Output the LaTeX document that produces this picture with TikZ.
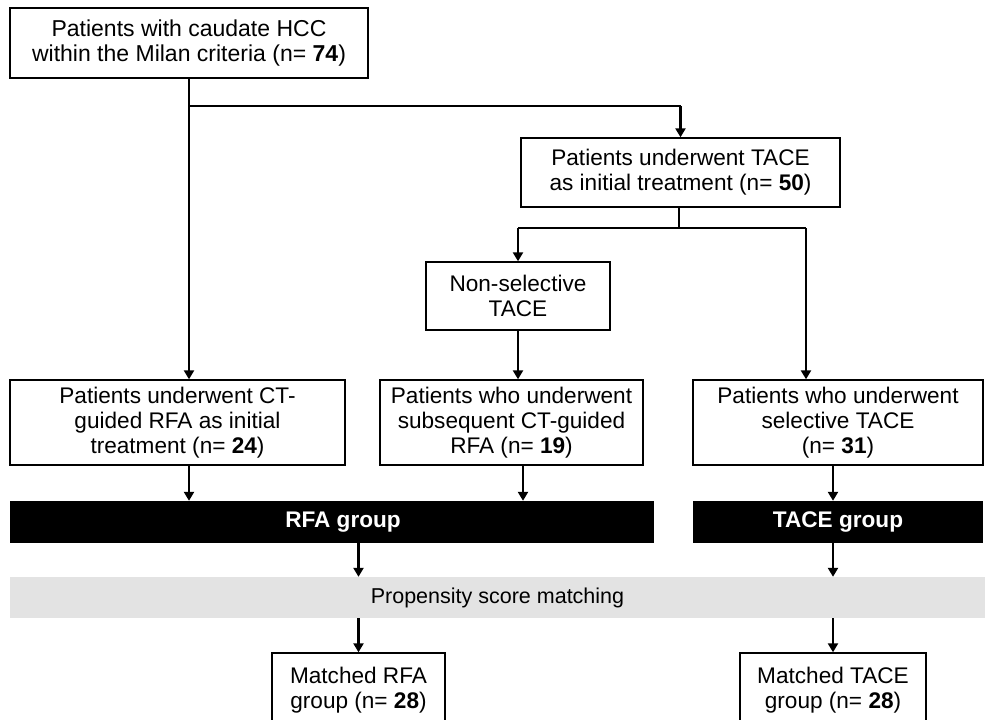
\documentclass[tikz,border=0pt]{standalone}
\usepackage{fontspec}
\setmainfont{Liberation Sans}
\usetikzlibrary{arrows.meta}
\definecolor{psgray}{HTML}{E3E3E3}
\tikzset{
  box/.style={draw=black, line width=1.4pt, fill=white, inner sep=0pt, align=center,
    font=\fontsize{22.6}{25}\selectfont},
  bar/.style={fill=black, inner sep=0pt, text=white, align=center,
    font=\fontsize{22.6}{25}\selectfont\bfseries},
  arr/.style={line width=2.6pt, -{Triangle[width=10pt,length=9pt]}},
  thin/.style={line width=1.4pt},
}
\begin{document}
\begin{tikzpicture}[x=1pt,y=-1pt]
\clip (0,0) rectangle (985,720);
\useasboundingbox (0,0) rectangle (985,720);
\fill[white] (0,0) rectangle (985,720);

\node[box, minimum width=358pt, minimum height=70pt, font=\fontsize{23}{25}\selectfont] (top) at (189,43)
  {Patients with caudate HCC\\within the Milan criteria (n= \textbf{74})};
\node[box, minimum width=319pt, minimum height=69pt] (tace) at (680.5,172.5)
  {Patients underwent TACE\\as initial treatment (n= \textbf{50})};
\node[box, minimum width=184pt, minimum height=68pt] (nonsel) at (518,296)
  {Non-selective\\TACE};
\node[box, minimum width=335pt, minimum height=85pt] (left) at (177.5,422.5)
  {Patients underwent CT-\\guided RFA as initial\\treatment (n= \textbf{24})};
\node[box, minimum width=263pt, minimum height=85pt] (mid) at (511.5,422.5)
  {Patients who underwent\\subsequent CT-guided\\RFA (n= \textbf{19})};
\node[box, minimum width=290pt, minimum height=85pt] (right) at (838,422.5)
  {Patients who underwent\\selective TACE\\(n= \textbf{31})};

\node[bar, minimum width=644pt, minimum height=42pt] (rfabar) at (332,522)
  {\hspace*{22pt}RFA group};
\node[bar, minimum width=290pt, minimum height=42pt] (tacebar) at (838,522)
  {TACE group};

\node[fill=psgray, inner sep=0pt, minimum width=975pt, minimum height=41pt,
  font=\fontsize{21.5}{25}\selectfont] (psm) at (497.5,597.5) {Propensity score matching};

\node[box, minimum width=173pt, minimum height=75pt] (mrfa) at (358.5,690.5)
  {Matched RFA\\group (n= \textbf{28})};
\node[box, minimum width=186pt, minimum height=75pt] (mtace) at (833,690.5)
  {Matched TACE\\group (n= \textbf{28})};

% connectors
\coordinate (b1) at (189,106);
\coordinate (b2) at (679,228);
\draw[arr] (top.south -| b1) -- (b1 |- left.north);
\draw[thin] (b1) -- (b1 -| tace.north);
\draw[arr] (b1 -| tace.north) -- (tace.north);
\draw[thin] (tace.south -| b2) -- (b2);
\draw[thin] (b2 -| nonsel.north) -- (b2 -| 806,0);
\draw[arr] (b2 -| nonsel.north) -- (nonsel.north);
\draw[arr] (b2 -| 806,0) -- (806,0 |- right.north);
\draw[arr] (nonsel.south) -- (nonsel.south |- mid.north);

\draw[arr] (left.south -| b1) -- (b1 |- rfabar.north);
\draw[arr] (mid.south -| 523,0) -- (523,0 |- rfabar.north);
\draw[arr] (right.south -| 833,0) -- (833,0 |- tacebar.north);

\draw[arr] (rfabar.south -| mrfa.north) -- (mrfa.north |- psm.north);
\draw[arr] (tacebar.south -| mtace.north) -- (mtace.north |- psm.north);
\draw[arr] (psm.south -| mrfa.north) -- (mrfa.north);
\draw[arr] (psm.south -| mtace.north) -- (mtace.north);
\end{tikzpicture}
\end{document}
